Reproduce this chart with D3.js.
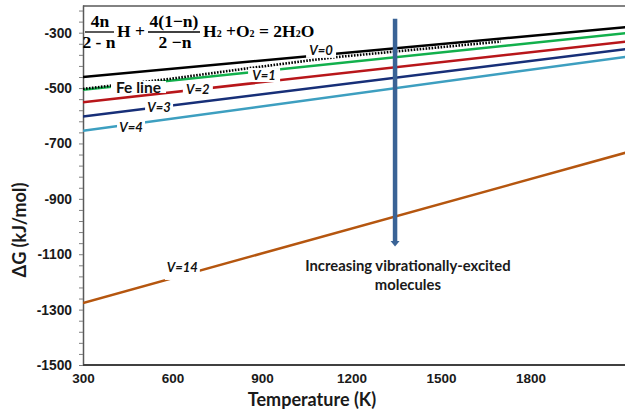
<!DOCTYPE html>
<html>
<head>
<meta charset="utf-8">
<script src="https://cdn.jsdelivr.net/npm/d3@7"></script>
<style>
  body { margin: 0; background: #fff; }
  svg { display: block; font-family: Lato, "Open Sans", sans-serif; }
</style>
</head>
<body>
<script>
var width = 625, height = 414;

// temperature (K) at both ends of the straight lines
var temps = [300, 2120];

// ΔG (kJ/mol) at those two temperatures
var v0 = [-460, -280];
var v1 = [-506, -302];
var v2 = [-551, -332];
var v3 = [-603, -359];
var v4 = [-654, -387];
var v14 = [-1276, -733];

// Fe line, dotted, read point by point
var feTemps = [300, 590, 850, 1060, 1150, 1700];
var feValues = [-503, -467, -429, -400, -388, -332];

var xTicks = [300, 600, 900, 1200, 1500, 1800];
var yTicks = [-300, -500, -700, -900, -1100, -1300, -1500];

var series = [
  { name: "V=14", values: v14, color: "#b5560f" },
  { name: "V=4", values: v4, color: "#3d9fc0" },
  { name: "V=3", values: v3, color: "#172f78" },
  { name: "V=2", values: v2, color: "#b8161a" },
  { name: "V=1", values: v1, color: "#12b04c" },
  { name: "V=0", values: v0, color: "#000000" }
];

// label anchors (data units) and the white box that sits under each
var labels = [
  { text: "V=0", t: 1098, v: -362, w: 30, h: 16 },
  { text: "V=1", t: 907, v: -453, w: 32, h: 14 },
  { text: "V=2", t: 685, v: -503, w: 30, h: 14 },
  { text: "V=3", t: 555, v: -568, w: 28, h: 14 },
  { text: "V=4", t: 461, v: -643, w: 28, h: 14 },
  { text: "V=14", t: 633, v: -1146, w: 35, h: 26 },
  { text: "Fe line", t: 486, v: -496, w: 55, h: 12, fe: true }
];

var arrowAt = { t: 1346, from: -250, to: -1072 };
var arrowText = [
  { text: "Increasing vibrationally-excited", t: 1389, v: -1161 },
  { text: "molecules", t: 1389, v: -1229 }
];

var x = d3.scaleLinear().domain([300, 2100]).range([83, 620]);
var y = d3.scaleLinear().domain([-1500, -200]).range([365, 5]);

var svg = d3.select("body").append("svg")
  .attr("width", width)
  .attr("height", height);

svg.append("rect").attr("width", width).attr("height", height).attr("fill", "#fff");

svg.append("clipPath").attr("id", "plot")
  .append("rect")
  .attr("x", x(300)).attr("y", y(-200))
  .attr("width", width - x(300)).attr("height", y(-1500) - y(-200));

// top frame line
svg.append("line")
  .attr("x1", x(300)).attr("x2", width)
  .attr("y1", y(-200) + 1).attr("y2", y(-200) + 1)
  .attr("stroke", "#595959").attr("stroke-width", 1.5);

// y axis, minor ticks every 40
var yAxis = d3.axisLeft(y)
  .tickValues(d3.range(-1500, -199, 40))
  .tickSize(4)
  .tickSizeOuter(0)
  .tickPadding(7)
  .tickFormat(d => yTicks.includes(d) ? String(d) : "");

var gy = svg.append("g")
  .attr("transform", "translate(" + x(300) + ",0)")
  .call(yAxis);
gy.select(".domain").attr("stroke", "#595959").attr("stroke-width", 1.5);
gy.selectAll(".tick line").attr("stroke", "#7f7f7f");
gy.selectAll("text")
  .attr("font-size", 13.8).attr("font-weight", "bold").attr("fill", "#1a1a1a");

var xAxis = d3.axisBottom(x)
  .tickValues(xTicks)
  .tickSize(0)
  .tickPadding(8)
  .tickFormat(d => String(d));

var gx = svg.append("g")
  .attr("transform", "translate(0," + y(-1500) + ")")
  .call(xAxis);
gx.select(".domain")
  .attr("d", "M" + x(300) + ",0H" + width)
  .attr("stroke", "#404040").attr("stroke-width", 2);
gx.selectAll("text")
  .attr("font-size", 13.5).attr("font-weight", "bold").attr("fill", "#1a1a1a");

var line = d3.line()
  .x(d => x(d[0]))
  .y(d => y(d[1]));

var plot = svg.append("g").attr("clip-path", "url(#plot)");

plot.selectAll("path.series")
  .data(series)
  .enter()
  .append("path")
  .attr("class", "series")
  .attr("d", d => line(d3.zip(temps, d.values)))
  .attr("fill", "none")
  .attr("stroke", d => d.color)
  .attr("stroke-width", 2.5);

plot.append("path")
  .attr("d", line(d3.zip(feTemps, feValues)))
  .attr("fill", "none")
  .attr("stroke", "#000")
  .attr("stroke-width", 2.6)
  .attr("stroke-dasharray", "1.6 1.4");

// line labels with white boxes
var lab = plot.selectAll("g.lab")
  .data(labels)
  .enter()
  .append("g")
  .attr("class", "lab")
  .attr("transform", d => "translate(" + x(d.t) + "," + y(d.v) + ")");

lab.append("rect")
  .attr("x", d => -d.w / 2)
  .attr("y", d => -d.h / 2)
  .attr("width", d => d.w)
  .attr("height", d => d.h)
  .attr("fill", "#fff");

lab.append("text")
  .attr("text-anchor", "middle")
  .attr("dy", "0.36em")
  .attr("font-weight", "bold")
  .attr("font-style", d => d.fe ? "normal" : "italic")
  .attr("font-size", d => d.fe ? 15.5 : 13)
  .attr("fill", "#111")
  .text(d => d.text);

// arrow
var ax = x(arrowAt.t);
svg.append("line")
  .attr("x1", ax).attr("x2", ax)
  .attr("y1", y(arrowAt.from)).attr("y2", y(arrowAt.to) - 5)
  .attr("stroke", "#3a6396").attr("stroke-width", 4.5);
svg.append("path")
  .attr("d", "M" + (ax - 4.5) + "," + (y(arrowAt.to) - 5.5) +
    "L" + (ax + 4.5) + "," + (y(arrowAt.to) - 5.5) +
    "L" + ax + "," + y(arrowAt.to) + "Z")
  .attr("fill", "#3a6396");

svg.selectAll("text.arrow")
  .data(arrowText)
  .enter()
  .append("text")
  .attr("class", "arrow")
  .attr("x", d => x(d.t))
  .attr("y", d => y(d.v))
  .attr("text-anchor", "middle")
  .attr("font-size", 14.8)
  .attr("font-weight", "bold")
  .attr("fill", "#1a1a1a")
  .text(d => d.text);

// axis titles
svg.append("text")
  .attr("transform", "translate(20,230) rotate(-90)")
  .attr("text-anchor", "middle")
  .attr("dy", "0.35em")
  .attr("font-size", 18)
  .attr("font-weight", "bold")
  .attr("fill", "#1a1a1a")
  .text("ΔG (kJ/mol)");

svg.append("text")
  .attr("x", 312).attr("y", 406)
  .attr("text-anchor", "middle")
  .attr("font-size", 18)
  .attr("font-weight", "bold")
  .attr("fill", "#1a1a1a")
  .text("Temperature (K)");

// reaction equation
var eq = svg.append("g")
  .attr("font-family", "'Liberation Serif', 'DejaVu Serif', serif")
  .attr("font-weight", "bold")
  .attr("font-size", 17.5)
  .attr("fill", "#000");

eq.append("text").attr("x", 100).attr("y", 27).attr("text-anchor", "middle").text("4n");
eq.append("line").attr("x1", 85).attr("x2", 114).attr("y1", 32).attr("y2", 32)
  .attr("stroke", "#000").attr("stroke-width", 1.3);
eq.append("text").attr("x", 99).attr("y", 48).attr("text-anchor", "middle").text("2 - n");
eq.append("text").attr("x", 117).attr("y", 37).text("H +");
eq.append("text").attr("x", 174).attr("y", 27).attr("text-anchor", "middle").text("4(1\u2212n)");
eq.append("line").attr("x1", 148).attr("x2", 200).attr("y1", 32).attr("y2", 32)
  .attr("stroke", "#000").attr("stroke-width", 1.3);
eq.append("text").attr("x", 175).attr("y", 48).attr("text-anchor", "middle").text("2 \u2212n");

var rhs = eq.append("text").attr("x", 203).attr("y", 37);
[["H", 17.5], ["2", 10], [" +O", 17.5], ["2", 10], [" = 2H", 17.5], ["2", 10], ["O", 17.5]]
  .forEach(function (p) {
    rhs.append("tspan").attr("font-size", p[1]).text(p[0]);
  });
</script>
</body>
</html>
